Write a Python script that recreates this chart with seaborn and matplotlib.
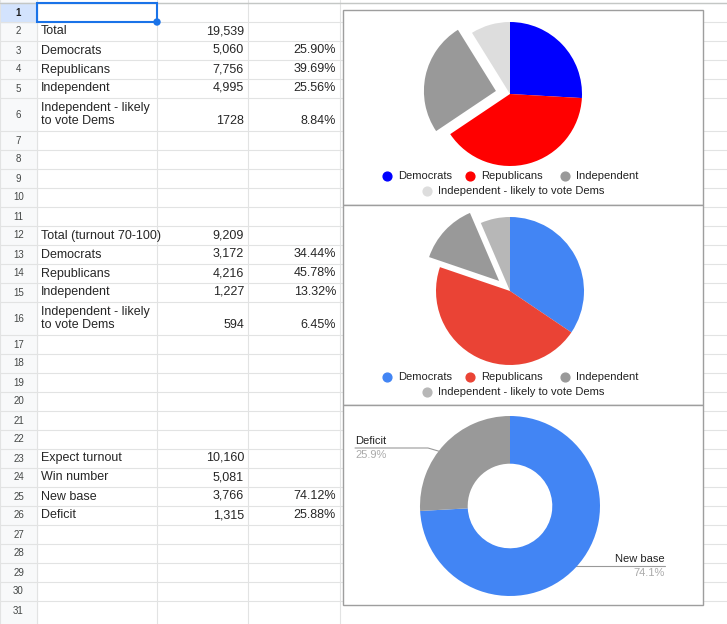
import matplotlib
matplotlib.use("Agg")
import matplotlib.pyplot as plt
import seaborn as sns
from matplotlib.patches import Rectangle, Circle

sns.set_style("white")
plt.rcParams['font.family'] = ['Liberation Sans', 'DejaVu Sans']

# ---- data ----
rows_a = ["", "Total", "Democrats", "Republicans", "Independent", "Independent - likely\nto vote Dems", "", "", "", "", "",
          "Total (turnout 70-100)", "Democrats", "Republicans", "Independent", "Independent - likely\nto vote Dems",
          "", "", "", "", "", "", "Expect turnout", "Win number", "New base", "Deficit", "", "", "", "", ""]
rows_b = ["", "19,539", "5,060", "7,756", "4,995", "1728", "", "", "", "", "",
          "9,209", "3,172", "4,216", "1,227", "594", "", "", "", "", "", "",
          "10,160", "5,081", "3,766", "1,315", "", "", "", "", ""]
rows_c = ["", "", "25.90%", "39.69%", "25.56%", "8.84%", "", "", "", "", "",
          "", "34.44%", "45.78%", "13.32%", "6.45%", "", "", "", "", "", "",
          "", "", "74.12%", "25.88%", "", "", "", "", ""]
pie_labels = ["Democrats", "Republicans", "Independent", "Independent - likely to vote Dems"]
pie1_vals = [5060, 7756, 4995, 1728]
pie2_vals = [3172, 4216, 1227, 594]
donut_labels = ["New base", "Deficit"]
donut_vals = [3766, 1315]

W, H = 727, 624
fig = plt.figure(figsize=(W/100, H/100), dpi=100)
bg = fig.add_axes([0, 0, 1, 1])
bg.set_xlim(0, W); bg.set_ylim(H, 0); bg.axis("off")

# row geometry
tops = []
y = 3
for i in range(31):
    h = 33 if i in (5, 15) else 19
    tops.append((y, h)); y += h
cols = [0, 37, 157, 248, 340, 727]
grid = "#e2e3e3"
bg.add_patch(Rectangle((0, 0), 37, H, color="#f8f9fa", zorder=0))
for i, (t, h) in enumerate(tops):
    bg.plot([0, W], [t, t], color=grid, lw=0.8, zorder=1)
    if i == 0:
        bg.add_patch(Rectangle((0, t), 37, h, color="#d3e3fd", zorder=0.5))
    bg.text(18.5, t + h/2, str(i+1), ha="center", va="center", fontsize=7,
            color="#1f1f1f" if i == 0 else "#444746", fontweight="bold" if i == 0 else "normal", zorder=2)
    bg.text(41, t + h/2, rows_a[i], ha="left", va="center", fontsize=9, linespacing=1.0, zorder=2)
    bg.text(244, t + h - 4, rows_b[i], ha="right", va="bottom", fontsize=9, zorder=2)
    bg.text(336, t + h - 4, rows_c[i], ha="right", va="bottom", fontsize=9, zorder=2)
for x in cols[:-1]:
    bg.plot([x, x], [0, H], color=grid, lw=0.8, zorder=1)
bg.plot([0, W], [3, 3], color="#c4c7c5", lw=1, zorder=1)
bg.add_patch(Rectangle((37, 3), 120, 19, fill=False, ec="#1a73e8", lw=1.5, zorder=3))
bg.add_patch(Circle((157, 22), 3, color="#1a73e8", zorder=4))

# chart frames
for (t, b) in [(10, 205), (205, 405), (405, 605)]:
    bg.add_patch(Rectangle((343, t), 360, b - t, fc="white", ec="#9e9e9e", lw=1, zorder=5))

def pax(cx, cy, r):
    return fig.add_axes([(cx - r)/W, 1 - (cy + r)/H, 2*r/W, 2*r/H], zorder=10)

def legend(colors, y1, y2):
    items = list(zip(pie_labels[:3], colors[:3]))
    xs = [387, 470, 565]
    for (lab, c), x in zip(items, xs):
        bg.scatter([x], [y1], s=40, color=c, zorder=8)
        bg.text(x + 11, y1, lab, va="center", fontsize=8, color="#222222", zorder=8)
    bg.scatter([427], [y2], s=40, color=colors[3], zorder=8)
    bg.text(438, y2, pie_labels[3], va="center", fontsize=8, color="#222222", zorder=8)

c1 = ["#0000ff", "#ff0000", "#999999", "#dddddd"]
a1 = pax(510, 94, 72)
a1.pie(pie1_vals, colors=c1, startangle=90, counterclock=False, explode=[0, 0, 0.2, 0],
       wedgeprops=dict(linewidth=0))
a1.set_xlim(-1, 1); a1.set_ylim(-1, 1); a1.axis("off")
legend(c1, 176, 191)

c2 = ["#4285f4", "#ea4335", "#999999", "#b7b7b7"]
a2 = pax(510, 291, 74)
a2.pie(pie2_vals, colors=c2, startangle=90, counterclock=False, explode=[0, 0, 0.2, 0],
       wedgeprops=dict(linewidth=0))
a2.set_xlim(-1, 1); a2.set_ylim(-1, 1); a2.axis("off")
legend(c2, 377, 392)

a3 = pax(510, 506, 90)
a3.pie(donut_vals, colors=["#4285f4", "#999999"], startangle=90, counterclock=False,
       wedgeprops=dict(width=0.53, linewidth=0))
a3.set_xlim(-1, 1); a3.set_ylim(-1, 1); a3.axis("off")

tot = sum(donut_vals)
bg.plot([355, 428, 445], [448, 448, 453], color="#999999", lw=0.8, zorder=8)
bg.text(355, 446, donut_labels[1], fontsize=8, va="bottom", color="#222222", zorder=8)
bg.text(355, 450, f"{donut_vals[1]/tot*100:.1f}%", fontsize=8, va="top", color="#aaaaaa", zorder=8)
bg.plot([572, 592, 665], [566, 566, 566], color="#999999", lw=0.8, zorder=8)
bg.text(665, 564, donut_labels[0], fontsize=8, va="bottom", ha="right", color="#222222", zorder=8)
bg.text(665, 568, f"{donut_vals[0]/tot*100:.1f}%", fontsize=8, va="top", ha="right", color="#aaaaaa", zorder=8)

fig.savefig("out.png", dpi=100)
